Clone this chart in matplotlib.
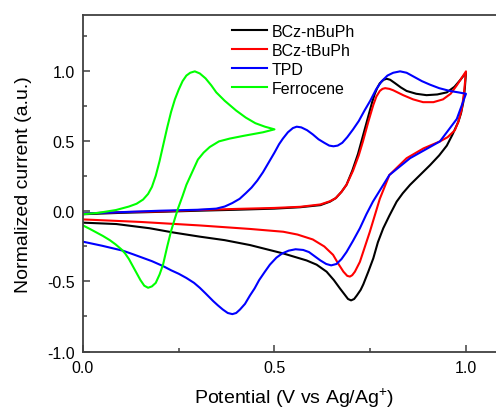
import matplotlib
matplotlib.use("Agg")
from matplotlib import pyplot as plt
from matplotlib.ticker import MultipleLocator

plt.rcParams["font.family"] = ["Liberation Sans", "DejaVu Sans"]
plt.rcParams["mathtext.default"] = "regular"
plt.rcParams["axes.unicode_minus"] = False

# BCz-nBuPh (forward then reverse scan)
nbu_x = [0, 0.1, 0.2, 0.3, 0.4, 0.5, 0.567, 0.62, 0.645, 0.66, 0.675, 0.688, 0.703, 0.718, 0.729,
         0.742, 0.755, 0.762, 0.768, 0.775, 0.785, 0.793, 0.802, 0.815, 0.83, 0.845, 0.87, 0.897,
         0.925, 0.95, 0.97, 0.984, 1.0,
         0.997, 0.993, 0.987, 0.98, 0.965, 0.95, 0.93, 0.906, 0.88, 0.854, 0.835, 0.819, 0.80,
         0.784, 0.77, 0.758, 0.745, 0.732, 0.725, 0.715, 0.708, 0.70, 0.692, 0.685, 0.671, 0.655,
         0.636, 0.61, 0.584, 0.523, 0.436, 0.37, 0.305, 0.235, 0.174, 0.087, 0]
nbu_y = [-0.02, -0.01, -0.003, 0.005, 0.012, 0.02, 0.03, 0.045, 0.07, 0.095, 0.14, 0.19, 0.29, 0.41, 0.52,
         0.65, 0.78, 0.84, 0.88, 0.915, 0.94, 0.947, 0.94, 0.915, 0.885, 0.86, 0.84, 0.83,
         0.835, 0.85, 0.89, 0.935, 0.99,
         0.88, 0.78, 0.70, 0.64, 0.55, 0.47, 0.40, 0.33, 0.26, 0.19, 0.13, 0.07, -0.03,
         -0.12, -0.22, -0.335, -0.43, -0.52, -0.56, -0.60, -0.625, -0.635, -0.625, -0.60, -0.55, -0.49,
         -0.43, -0.38, -0.35, -0.30, -0.24, -0.205, -0.18, -0.15, -0.12, -0.09, -0.08]

# BCz-tBuPh
tbu_x = [0, 0.1, 0.2, 0.3, 0.4, 0.5, 0.567, 0.62, 0.645, 0.66, 0.675, 0.688, 0.705, 0.72, 0.731,
         0.745, 0.758, 0.766, 0.775, 0.782, 0.789, 0.80, 0.81, 0.836, 0.862, 0.888, 0.915, 0.94,
         0.96, 0.976, 1.0,
         0.995, 0.989, 0.98, 0.971, 0.952, 0.932, 0.889, 0.845, 0.80, 0.775, 0.749, 0.723, 0.71,
         0.703, 0.697, 0.69, 0.68, 0.667, 0.653, 0.63, 0.60, 0.56, 0.523, 0.436, 0.305, 0.15, 0]
tbu_y = [-0.015, -0.005, 0.0, 0.01, 0.018, 0.025, 0.033, 0.05, 0.073, 0.095, 0.14, 0.19, 0.29, 0.40, 0.50,
         0.64, 0.76, 0.82, 0.86, 0.875, 0.88, 0.875, 0.865, 0.83, 0.80, 0.78, 0.78, 0.80,
         0.84, 0.90, 1.0,
         0.85, 0.73, 0.64, 0.58, 0.53, 0.50, 0.45, 0.38, 0.26, 0.09, -0.145, -0.36, -0.43,
         -0.455, -0.465, -0.46, -0.43, -0.375, -0.31, -0.25, -0.20, -0.165, -0.145, -0.125, -0.10, -0.075, -0.057]

# TPD
tpd_x = [0, 0.1, 0.2, 0.3, 0.348, 0.37, 0.39, 0.409, 0.425, 0.44, 0.455, 0.47, 0.485, 0.50, 0.512,
         0.522, 0.535, 0.548, 0.558, 0.57, 0.585, 0.60, 0.615, 0.63, 0.643, 0.654, 0.665, 0.677,
         0.69, 0.705, 0.72, 0.735, 0.75, 0.765, 0.78, 0.795, 0.81, 0.828, 0.845, 0.865, 0.885,
         0.906, 0.93, 0.958, 0.98, 1.0,
         0.976, 0.932, 0.854, 0.80, 0.757, 0.74, 0.723, 0.705, 0.688, 0.675, 0.662, 0.648, 0.635,
         0.62, 0.605, 0.59, 0.575, 0.555, 0.537, 0.52, 0.505, 0.488, 0.475, 0.46, 0.448, 0.436,
         0.423, 0.41, 0.40, 0.39, 0.378, 0.365, 0.352, 0.34, 0.32, 0.305, 0.29, 0.27, 0.25, 0.23,
         0.209, 0.18, 0.16, 0.13, 0.104, 0.05, 0]
tpd_y = [-0.015, -0.005, 0.005, 0.012, 0.02, 0.035, 0.06, 0.09, 0.13, 0.17, 0.22, 0.28, 0.35, 0.42, 0.48,
         0.52, 0.565, 0.595, 0.605, 0.60, 0.58, 0.55, 0.515, 0.49, 0.47, 0.465, 0.47, 0.49,
         0.53, 0.585, 0.645, 0.72, 0.79, 0.87, 0.93, 0.97, 0.99, 1.0, 0.99, 0.96, 0.93,
         0.905, 0.88, 0.86, 0.85, 0.84,
         0.66, 0.50, 0.38, 0.26, 0.07, -0.02, -0.12, -0.21, -0.29, -0.34, -0.375, -0.385, -0.375,
         -0.35, -0.32, -0.29, -0.275, -0.27, -0.28, -0.30, -0.33, -0.38, -0.43, -0.49, -0.55, -0.60,
         -0.66, -0.70, -0.725, -0.733, -0.725, -0.70, -0.67, -0.64, -0.585, -0.545, -0.51, -0.475, -0.445, -0.42,
         -0.39, -0.355, -0.335, -0.305, -0.28, -0.245, -0.216]

# Ferrocene
fc_x = [0, 0.04, 0.086, 0.12, 0.14, 0.157, 0.17, 0.18, 0.19, 0.20, 0.21, 0.22, 0.23, 0.24, 0.25,
        0.26, 0.27, 0.28, 0.292, 0.305, 0.32, 0.335, 0.348, 0.37, 0.40, 0.425, 0.45, 0.475, 0.50,
        0.47, 0.45, 0.42, 0.383, 0.355, 0.331, 0.315, 0.30, 0.29, 0.28, 0.27, 0.26, 0.248, 0.24,
        0.23, 0.22, 0.209, 0.20, 0.19, 0.18, 0.17, 0.16, 0.15, 0.14, 0.13, 0.12, 0.11, 0.10, 0.085,
        0.07, 0.052, 0.035, 0.018, 0]
fc_y = [-0.02, -0.01, 0.01, 0.035, 0.055, 0.085, 0.125, 0.175, 0.255, 0.36, 0.48, 0.60, 0.71, 0.80, 0.87,
        0.93, 0.97, 0.99, 1.0, 0.985, 0.95, 0.90, 0.85, 0.79, 0.72, 0.67, 0.63, 0.605, 0.586,
        0.565, 0.555, 0.54, 0.52, 0.50, 0.46, 0.42, 0.37, 0.31, 0.25, 0.19, 0.11, 0.02, -0.05,
        -0.14, -0.25, -0.38, -0.45, -0.51, -0.535, -0.545, -0.53, -0.49, -0.44, -0.39, -0.34, -0.30, -0.27, -0.235,
        -0.205, -0.175, -0.15, -0.125, -0.10]

labels = ["BCz-nBuPh", "BCz-tBuPh", "TPD", "Ferrocene"]
colors = ["#000000", "#ff0000", "#0000ff", "#00ff00"]

fig = plt.figure(figsize=(4.96, 4.10), dpi=100)
ax = fig.add_axes([0.1673, 0.1402, 0.8494, 0.820])

for xs, ys, lab, c in zip([nbu_x, tbu_x, tpd_x, fc_x], [nbu_y, tbu_y, tpd_y, fc_y], labels, colors):
    ax.plot(xs, ys, color=c, lw=1.5, label=lab, solid_joinstyle="round")

ax.set_xlim(0, 1.1)
ax.set_ylim(-1.0, 1.4)
ax.xaxis.set_major_locator(MultipleLocator(0.5))
ax.xaxis.set_minor_locator(MultipleLocator(0.25))
ax.yaxis.set_major_locator(MultipleLocator(0.5))
ax.yaxis.set_minor_locator(MultipleLocator(0.25))
ax.tick_params(which="both", direction="in", colors="#404040", labelcolor="black",
               labelsize=11.5, width=1.1, top=False, right=False)
ax.tick_params(which="major", length=5, pad=6)
ax.tick_params(which="minor", length=3)
for s in ax.spines.values():
    s.set_color("#404040")
    s.set_linewidth(1.3)

ax.set_xlabel("Potential (V vs Ag/Ag$^{+}$)", fontsize=14, labelpad=8)
ax.set_ylabel("Normalized current (a.u.)", fontsize=14, labelpad=11)

ax.legend(loc="upper left", bbox_to_anchor=(232 / 496, 1 - 25 / 410),
          bbox_transform=fig.transFigure, frameon=False, fontsize=11.5,
          handlelength=2.2, handletextpad=0.3, labelspacing=0.25,
          borderpad=0, borderaxespad=0)

plt.savefig("out.png", dpi=100)
